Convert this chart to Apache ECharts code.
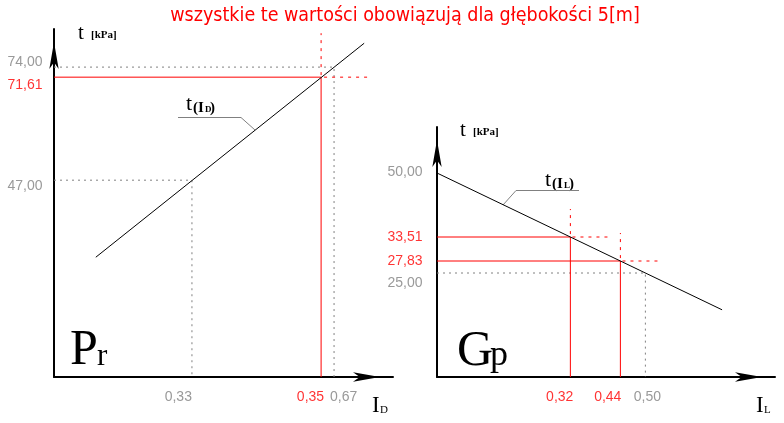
<!DOCTYPE html>
<html>
<head>
<meta charset="utf-8">
<title>t(ID) / t(IL)</title>
<script src="https://cdn.jsdelivr.net/npm/echarts@6.0.0/dist/echarts.min.js"></script>
<style>
html, body { margin: 0; padding: 0; background: #fff; }
#chart { width: 784px; height: 423px; }
</style>
</head>
<body>
<div id="chart"></div>
<script>
// -- Pr: t w funkcji I_D ---------------------------------------------------
var prLineX = [0.10, 0.742];
var prLineT = [28.6, 79.7];
var prRefX = [0.33, 0.67, 0.639];
var prRefT = [47.0, 74.0, 71.6];
var prRefRed = [false, false, true];
var prXText = ['0,33', '0,67', '0,35'];
var prYText = ['47,00', '74,00', '71,61'];

// -- Gp: t w funkcji I_L ---------------------------------------------------
var gpLineX = [0.0, 0.684];
var gpLineT = [50.0, 15.8];
var gpRefX = [0.32, 0.44, 0.50];
var gpRefT = [34.0, 28.0, 25.0];
var gpRefRed = [true, true, false];
var gpXText = ['0,32', '0,44', '0,50'];
var gpYText = ['33,51', '27,83', '25,00'];
var gpStartT = [50.0];
var gpStartText = ['50,00'];

var TITLE = 'wszystkie te wartości obowiązują dla głębokości 5[m]';

// style only (label nudges, kept apart from the values)
var prXAlign = ['right', 'left', 'right'], prXDx = [0, -4, 3], prYDy = [6, -5, 8];
var gpXAlign = ['right', 'right', 'center'], gpXDx = [3, 1, 2], gpYDy = [0, 0, 10];

var RED = '#ff0000', GRAY = '#808080';
var TICKFONT = "'Liberation Sans', Arial, sans-serif";
var SERIF = "'Liberation Serif', 'DejaVu Serif', serif";

var solidRed = { color: RED, width: 1, type: 'solid' };
var dashRed = { color: RED, width: 1, type: [3, 5] };
var dotGray = { color: GRAY, width: 1, type: [2, 4] };

// linie pomocnicze od osi do punktu; '-' przerywa linie miedzy odcinkami
function refPaths(xs, ts, reds, y0, dx, dt) {
    var out = { solid: [], dash: [], dot: [] };
    for (var i = 0; i < xs.length; i++) {
        var x = xs[i], t = ts[i];
        if (reds[i]) {
            out.solid.push([0, t], [x, t], [x, y0], '-');
            out.dash.push([x + dx, t], [x, t], [x, t + dt], '-');
        } else {
            out.dot.push([0, t], [x, t], [x, y0], '-');
        }
    }
    return out;
}

function pathSeries(gi, data, ls) {
    return {
        type: 'line', xAxisIndex: gi, yAxisIndex: gi, data: data,
        showSymbol: false, connectNulls: false, clip: false, silent: true, z: 1,
        itemStyle: { color: ls.color }, lineStyle: ls
    };
}

function xTickData(xs, texts, reds, y0, aligns, dxs) {
    return xs.map(function (x, i) {
        return { value: [x, y0], label: { formatter: texts[i], color: reds[i] ? RED : GRAY,
                 align: aligns[i], offset: [dxs[i], 0] } };
    });
}

function yTickData(ts, texts, reds, dys) {
    return ts.map(function (t, i) {
        return { value: [0, t], label: { formatter: texts[i], color: reds[i] ? RED : GRAY,
                 offset: [0, dys[i]] } };
    });
}

function lineData(xs, ts) {
    return xs.map(function (x, i) { return [x, ts[i]]; });
}

function axisCommon(gi, min, max) {
    return { gridIndex: gi, type: 'value', min: min, max: max,
        axisLine: { onZero: false, symbol: ['none', 'arrow'], symbolSize: [7, 27],
                    symbolOffset: [0, -13], lineStyle: { color: '#000', width: 2 } },
        axisTick: { show: false }, axisLabel: { show: false }, splitLine: { show: false } };
}

function tickSeries(gi, data, pos, dist) {
    return {
        type: 'scatter', xAxisIndex: gi, yAxisIndex: gi, data: data,
        symbolSize: 1, itemStyle: { color: 'rgba(0,0,0,0)' }, silent: true, clip: false, z: 4,
        label: { show: true, position: pos, distance: dist,
                 fontFamily: TICKFONT, fontSize: 14 }
    };
}

function txt(x, y, s, font, color, align) {
    return { type: 'text', x: x, y: y, silent: true,
        style: { text: s, font: font, fill: color || '#000',
                 textAlign: align || 'left', textVerticalAlign: 'middle',
                 align: align || 'left', verticalAlign: 'middle' } };
}
function leader(points) {
    return { type: 'polyline', silent: true, shape: { points: points },
             style: { stroke: GRAY, lineWidth: 1, fill: null } };
}

var prPaths = refPaths(prRefX, prRefT, prRefRed, 0, 0.11, 10.5);
var gpPaths = refPaths(gpRefX, gpRefT, gpRefRed, -1, 0.089, 7);

var myChart = echarts.init(document.getElementById('chart'));

var option = {
    animation: false,
    grid: [
        { left: 54, top: 29, width: 339, height: 348 },
        { left: 437, top: 127, width: 338, height: 250 }
    ],
    xAxis: [axisCommon(0, 0, 0.811), axisCommon(1, 0, 0.811)],
    yAxis: [axisCommon(0, 0, 83.1), axisCommon(1, -1, 61.5)],
    series: [
        pathSeries(0, prPaths.dot, dotGray),
        pathSeries(0, prPaths.solid, solidRed),
        pathSeries(0, prPaths.dash, dashRed),
        pathSeries(1, gpPaths.dot, dotGray),
        pathSeries(1, gpPaths.solid, solidRed),
        pathSeries(1, gpPaths.dash, dashRed),
        tickSeries(0, xTickData(prRefX, prXText, prRefRed, 0, prXAlign, prXDx), 'bottom', 13),
        tickSeries(0, yTickData(prRefT, prYText, prRefRed, prYDy), 'left', 11),
        tickSeries(1, xTickData(gpRefX, gpXText, gpRefRed, -1, gpXAlign, gpXDx), 'bottom', 13),
        tickSeries(1, yTickData(gpRefT, gpYText, gpRefRed, gpYDy)
                   .concat(yTickData(gpStartT, gpStartText, [false], [-1])), 'left', 14),
        {
            type: 'line', xAxisIndex: 0, yAxisIndex: 0, data: lineData(prLineX, prLineT),
            showSymbol: false, clip: false, silent: true, z: 3,
            itemStyle: { color: '#000' }, lineStyle: { color: '#000', width: 1 }
        },
        {
            type: 'line', xAxisIndex: 1, yAxisIndex: 1, data: lineData(gpLineX, gpLineT),
            showSymbol: false, clip: false, silent: true, z: 3,
            itemStyle: { color: '#000' }, lineStyle: { color: '#000', width: 1 }
        }
    ],
    graphic: [
        txt(405, 16, TITLE, '19.5px ' + "'DejaVu Sans Condensed', sans-serif", RED, 'center'),
        // osie t [kPa]
        txt(78, 33, 't', '21px ' + SERIF),
        txt(91, 35, '[kPa]', 'bold 11px ' + SERIF),
        txt(460, 130, 't', '21px ' + SERIF),
        txt(473, 132, '[kPa]', 'bold 11px ' + SERIF),
        // opisy osi poziomych
        txt(372, 406, 'I', '23px ' + SERIF),
        txt(380, 410, 'D', '11px ' + SERIF),
        txt(756, 406, 'I', '23px ' + SERIF),
        txt(764, 410, 'L', '11px ' + SERIF),
        // Pr, Gp
        txt(70, 351, 'P', '50px ' + SERIF),
        txt(97, 357, 'r', '31px ' + SERIF),
        txt(457, 352, 'G', '50px ' + SERIF),
        txt(490, 356, 'p', '36px ' + SERIF),
        // t(ID) z odnosnikiem
        txt(186, 104, 't', '22px ' + SERIF),
        txt(193, 108, '(I', 'bold 15px ' + SERIF),
        txt(205, 110, 'D', 'bold 9px ' + SERIF),
        txt(210, 108, ')', 'bold 15px ' + SERIF),
        leader([[178, 117.5], [241, 117.5], [255, 130]]),
        // t(IL) z odnosnikiem
        txt(545, 180, 't', '22px ' + SERIF),
        txt(552, 184, '(I', 'bold 15px ' + SERIF),
        txt(564, 186, 'L', 'bold 9px ' + SERIF),
        txt(569, 184, ')', 'bold 15px ' + SERIF),
        leader([[579, 190.5], [516, 190.5], [503, 205]])
    ]
};

myChart.setOption(option);
</script>
</body>
</html>
